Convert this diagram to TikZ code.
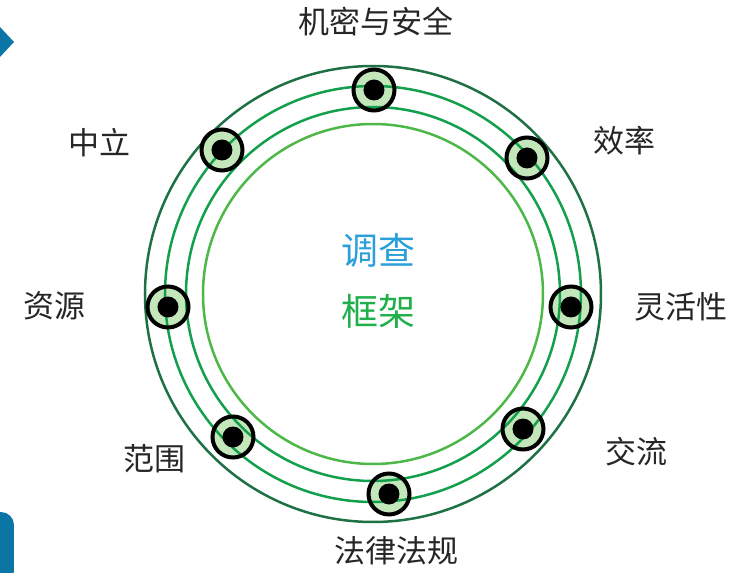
\documentclass[tikz,border=0pt]{standalone}
\usepackage{fontspec}
\newfontfamily\cjk{Noto Sans CJK SC}
\definecolor{bleufond}{HTML}{0B76A6}
\definecolor{vertfonce}{HTML}{1E7145}
\definecolor{vertmoyen}{HTML}{12A04C}
\definecolor{vertclair}{HTML}{4DB847}
\definecolor{remplissage}{HTML}{C3E6BA}
\definecolor{bleutexte}{HTML}{2A9FD8}
\definecolor{verttexte}{HTML}{1FB04B}
\definecolor{textegris}{HTML}{262626}
\tikzset{
  repere/.style={circle, fill=remplissage, minimum size=41pt, inner sep=0pt},
  etiquette/.style={font=\cjk\fontsize{31}{33}\selectfont, text=textegris},
  anneau/.style={line width=2.5pt},
}
\begin{document}
\begin{tikzpicture}[x=1pt, y=1pt]
    \useasboundingbox (-373,-279) rectangle (383,294);

    % Formes bleues coupées au bord gauche
    \fill[bleufond] (-373,267) -- (-359,252) -- (-373,237) -- cycle;
    \fill[bleufond, rounded corners=13pt] (-385,-290) rectangle (-359,-218);

    % Fonds des repères
    \node[repere] (S) at (1,204) {};
    \node[repere] (E) at (154,136) {};
    \node[repere] (F) at (198,-13) {};
    \node[repere] (C) at (150,-135) {};
    \node[repere] (L) at (16,-200) {};
    \node[repere] (P) at (-140,-143) {};
    \node[repere] (R) at (-205,-13) {};
    \node[repere] (N) at (-151,144) {};

    % Anneaux concentriques
    \draw[anneau, vertfonce] (0,0) circle (228);
    \draw[anneau, vertmoyen] (0,0) circle (208);
    \draw[anneau, vertmoyen] (0,0) circle (187);
    \draw[anneau, vertclair] (0,0) circle (170);

    % Contours et points des repères
    \foreach \r in {S,E,F,C,L,P,R,N} {
      \draw[line width=4pt] (\r) circle (20.5);
      \fill (\r) circle (10.5);
    }

    % Étiquettes
    \node[etiquette] (tS) at (3,272) {机密与安全};
    \node[etiquette] (tE) at (252,153) {效率};
    \node[etiquette] (tF) at (308,-13) {灵活性};
    \node[etiquette] (tC) at (264,-158) {交流};
    \node[etiquette] (tL) at (24,-257) {法律法规};
    \node[etiquette] (tP) at (-218,-165) {范围};
    \node[etiquette] (tR) at (-318,-12) {资源};
    \node[etiquette] (tN) at (-273,151) {中立};

    % Titre central
    \node[font=\cjk\fontsize{37}{40}\selectfont, text=bleutexte] (titre1) at (6,44) {调查};
    \node[font=\cjk\fontsize{37}{40}\selectfont, text=verttexte] (titre2) at (6,-17) {框架};

\end{tikzpicture}
\end{document}
